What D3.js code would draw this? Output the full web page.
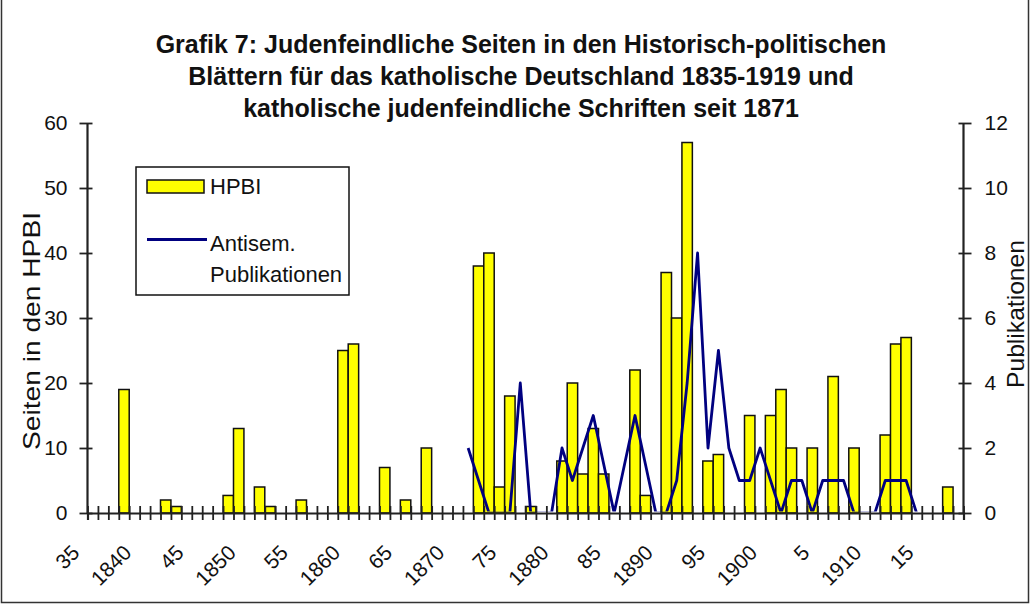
<!DOCTYPE html>
<html><head><meta charset="utf-8">
<script src="https://cdn.jsdelivr.net/npm/d3@7"></script>
<style>
body{margin:0;background:#fff}
svg{display:block}
text{font-family:"Liberation Sans",Arial,sans-serif;fill:#111}
</style>
</head><body>
<svg id="chart" width="1030" height="604"></svg>
<script>
// ---------------- data ----------------
const years = [1835,1836,1837,1838,1839,1840,1841,1842,1843,1844,1845,1846,1847,1848,1849,
  1850,1851,1852,1853,1854,1855,1856,1857,1858,1859,1860,1861,1862,1863,1864,1865,1866,1867,1868,1869,
  1870,1871,1872,1873,1874,1875,1876,1877,1878,1879,1880,1881,1882,1883,1884,1885,1886,1887,1888,1889,
  1890,1891,1892,1893,1894,1895,1896,1897,1898,1899,1900,1901,1902,1903,1904,1905,1906,1907,1908,1909,
  1910,1911,1912,1913,1914,1915,1916,1917,1918];
// HPBI pages per year (left axis)
const hpbi = [0,0,0,19,0,0,0,2,1,0,0,0,0,2.7,13,
  0,4,1,0,0,2,0,0,0,25,26,0,0,7,0,2,0,10,0,0,
  0,0,38,40,4,18,0,1,0,0,8,20,6,13,6,0,0,22,2.7,0,
  37,30,57,0,8,9,0,0,15,0,15,19,10,0,10,0,21,0,10,0,
  0,12,26,27,0,0,0,4,0];
// antisemitic publications (right axis), from 1871
const antisemYears = [1871,1872,1873,1874,1875,1876,1877,1878,1879,1880,1881,1882,1883,1884,1885,1886,1887,1888,1889,
  1890,1891,1892,1893,1894,1895,1896,1897,1898,1899,1900,1901,1902,1903,1904,1905,1906,1907,1908,1909,
  1910,1911,1912,1913,1914];
const antisem = [2,1,0,0,0,4,0,0,0,2,1,2,3,1.5,0,1.5,3,1.5,0,
  0,1,4,8,2,5,2,1,1,2,1,0,1,1,0,1,1,1,0,0,
  0,1,1,1,0];
const leftTicks = [0,10,20,30,40,50,60];
const rightTicks = [0,2,4,6,8,10,12];
const labelYears = [1835,1840,1845,1850,1855,1860,1865,1870,1875,1880,1885,1890,1895,1900,1905,1910,1915];
const labelTexts = ['35','1840','45','1850','55','1860','65','1870','75','1880','85','1890','95','1900','5','1910','15'];
const titleLines = ['Grafik 7: Judenfeindliche Seiten in den Historisch-politischen',
  'Blättern für das katholische Deutschland 1835-1919 und',
  'katholische judenfeindliche Schriften seit 1871'];
const legendItems = ['HPBI', 'Antisem.', 'Publikationen'];
const leftTitle = 'Seiten in den HPBI';
const rightTitle = 'Publikationen';

// ---------------- layout ----------------
const L = 87.5, R = 963.5, T = 123, B = 513;
const svg = d3.select('#chart');

const x = d3.scaleBand().domain(years).range([L, R]).padding(0);
const xEdge = d3.scaleLinear().domain([0, years.length]).range([L, R]);
const yL = d3.scaleLinear().domain([0, 60]).range([B, T]);
const yR = d3.scaleLinear().domain([0, 12]).range([B, T]);
const bw = x.bandwidth();

svg.append('defs').append('clipPath').attr('id', 'plotclip')
  .append('rect').attr('x', L).attr('y', 0).attr('width', R - L).attr('height', B - 1.6);

// frame
svg.append('path').attr('d', 'M1.5,0 V602.5 H1028.5 V0').attr('fill', 'none')
  .attr('stroke', '#333').attr('stroke-width', 1.5);

// title
const title = svg.append('g');
titleLines.forEach((t, i) => {
  title.append('text').attr('x', 521).attr('y', 53 + i * 32)
    .attr('text-anchor', 'middle').attr('font-size', 25).attr('font-weight', 'bold').text(t);
});

// bars
const barData = years.map((yr, i) => ({yr, v: hpbi[i]})).filter(d => d.v > 0);
svg.append('g').selectAll('rect').data(barData).join('rect')
  .attr('x', d => x(d.yr)).attr('width', bw)
  .attr('y', d => yL(d.v)).attr('height', d => yL(0) - yL(d.v))
  .attr('fill', '#ffff00').attr('stroke', '#111').attr('stroke-width', 1.5);

// line
const lineData = antisemYears.map((yr, i) => ({yr, v: antisem[i]}));
const line = d3.line().x(d => x(d.yr) + bw / 2).y(d => yR(d.v));
svg.append('path').datum(lineData).attr('d', line).attr('clip-path', 'url(#plotclip)')
  .attr('fill', 'none').attr('stroke', '#000080').attr('stroke-width', 2.8)
  .attr('stroke-linejoin', 'round');

// axes
const axStroke = '#222';
const gL = svg.append('g').attr('transform', `translate(${L},0)`)
  .call(d3.axisLeft(yL).tickValues(leftTicks).tickSize(8).tickPadding(12).tickFormat(d3.format('d')));
gL.selectAll('.tick line').attr('x1', 5);
const gR = svg.append('g').attr('transform', `translate(${R},0)`)
  .call(d3.axisRight(yR).tickValues(rightTicks).tickSize(8).tickPadding(13).tickFormat(d3.format('d')));
gR.selectAll('.tick line').attr('x1', -5);
const gB = svg.append('g').attr('transform', `translate(0,${B})`)
  .call(d3.axisBottom(xEdge).tickValues(d3.range(years.length + 1)).tickSize(7).tickFormat(''));
gB.selectAll('.tick line').attr('y1', -7);
[gL, gR, gB].forEach(g => {
  g.selectAll('.domain').attr('stroke', axStroke).attr('stroke-width', 2.2);
  g.selectAll('.tick line').attr('stroke', axStroke).attr('stroke-width', 1.8);
  g.selectAll('text').attr('font-size', 21).attr('fill', '#111')
    .attr('font-family', '"Liberation Sans",Arial,sans-serif');
});
gL.select('.domain').attr('d', `M0,${T}V${B}`);
gR.select('.domain').attr('d', `M0,${T}V${B}`);

// x labels
svg.append('g').selectAll('text').data(labelYears).join('text')
  .attr('transform', d => `translate(${x(d) + bw / 2 - 12},554) rotate(-45)`)
  .attr('text-anchor', 'end').attr('font-size', 21)
  .text((d, i) => labelTexts[i]);

// axis titles
svg.append('text').attr('transform', 'translate(40,331) rotate(-90)')
  .attr('text-anchor', 'middle').attr('font-size', 24)
  .attr('textLength', 238).attr('lengthAdjust', 'spacingAndGlyphs').text(leftTitle);
svg.append('text').attr('transform', 'translate(1024,314) rotate(-90)')
  .attr('text-anchor', 'middle').attr('font-size', 24)
  .attr('textLength', 148).attr('lengthAdjust', 'spacingAndGlyphs').text(rightTitle);

// legend
const lg = svg.append('g');
lg.append('rect').attr('x', 136).attr('y', 167).attr('width', 213).attr('height', 128)
  .attr('fill', '#fff').attr('stroke', '#111').attr('stroke-width', 1.5);
lg.append('rect').attr('x', 147).attr('y', 180).attr('width', 57).attr('height', 13)
  .attr('fill', '#ffff00').attr('stroke', '#111').attr('stroke-width', 1.5);
lg.append('line').attr('x1', 147).attr('x2', 207).attr('y1', 239.5).attr('y2', 239.5)
  .attr('stroke', '#000080').attr('stroke-width', 2.8);
lg.append('text').attr('x', 210).attr('y', 194).attr('font-size', 22).text(legendItems[0]);
lg.append('text').attr('x', 210).attr('y', 251).attr('font-size', 22).text(legendItems[1]);
lg.append('text').attr('x', 210).attr('y', 282).attr('font-size', 22).text(legendItems[2]);
</script>
</body></html>
